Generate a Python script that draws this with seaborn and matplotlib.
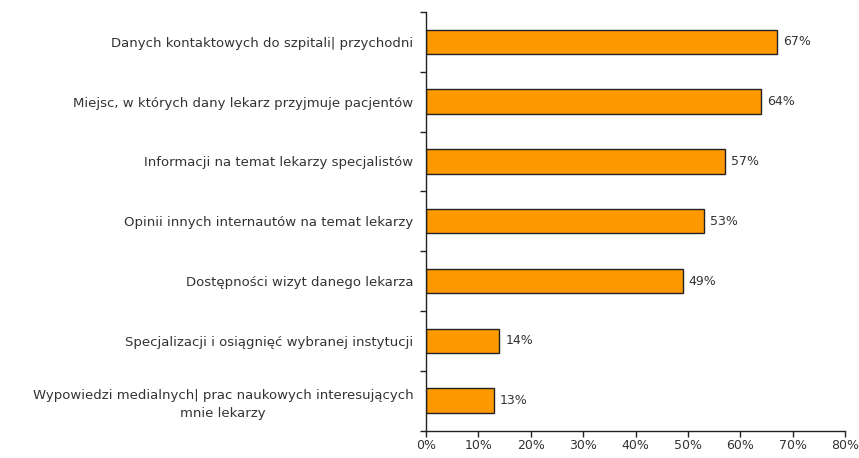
import pandas as pd
import numpy as np
import matplotlib.pyplot as plt
import seaborn as sns
from matplotlib.ticker import FixedLocator, PercentFormatter

# - - - data - - - #
categories = [
    "Danych kontaktowych do szpitali| przychodni",
    "Miejsc, w których dany lekarz przyjmuje pacjentów",
    "Informacji na temat lekarzy specjalistów",
    "Opinii innych internautów na temat lekarzy",
    "Dostępności wizyt danego lekarza",
    "Specjalizacji i osiągnięć wybranej instytucji",
    "Wypowiedzi medialnych| prac naukowych interesujących\nmnie lekarzy",
]
values = [67, 64, 57, 53, 49, 14, 13]
x_ticks = [0, 10, 20, 30, 40, 50, 60, 70, 80]

df = pd.DataFrame({"cat": categories, "val": values})

sns.set_style("white")
plt.rcParams['font.family'] = ['DejaVu Sans']

fig = plt.figure(figsize=(8.59, 4.58), dpi=100)
ax = fig.add_axes([0.496, 0.06, 0.488, 0.914])

sns.barplot(data=df, y="cat", x="val", orient="h", color="#FF9900",
            edgecolor="#222222", linewidth=1.0, width=0.41, saturation=1, ax=ax)

n = len(categories)
ax.set_xlim(0, 80)
ax.set_ylim(n - 0.5, -0.5)
ax.set_xlabel("")
ax.set_ylabel("")

# x axis
ax.set_xticks(x_ticks)
ax.xaxis.set_major_formatter(PercentFormatter(decimals=0))
ax.tick_params(axis="x", bottom=True, direction="out", length=4, width=1,
               colors="#222222", labelsize=9, labelcolor="#333333", pad=2)

# y axis: boundary ticks as major, labels on minor
ax.yaxis.set_major_locator(FixedLocator(np.arange(-0.5, n, 1.0)))
ax.set_yticklabels([])
ax.yaxis.set_minor_locator(FixedLocator(np.arange(n)))
ax.set_yticklabels(categories, minor=True)
ax.tick_params(axis="y", which="major", left=True, direction="out", length=4,
               width=1, colors="#222222")
ax.tick_params(axis="y", which="minor", left=True, length=0, labelsize=9.5,
               labelcolor="#333333", pad=9)
for lbl in ax.get_yticklabels(minor=True):
    lbl.set_horizontalalignment("right")
    lbl.set_multialignment("center")
    lbl.set_linespacing(1.5)

for side in ["top", "right"]:
    ax.spines[side].set_visible(False)
for side in ["left", "bottom"]:
    ax.spines[side].set_color("#222222")
    ax.spines[side].set_linewidth(1.0)

# value labels
for i, v in enumerate(values):
    ax.text(v + 1.1, i, f"{v}%", va="center", ha="left", fontsize=9,
            color="#333333")

fig.savefig("out.png", dpi=100)
